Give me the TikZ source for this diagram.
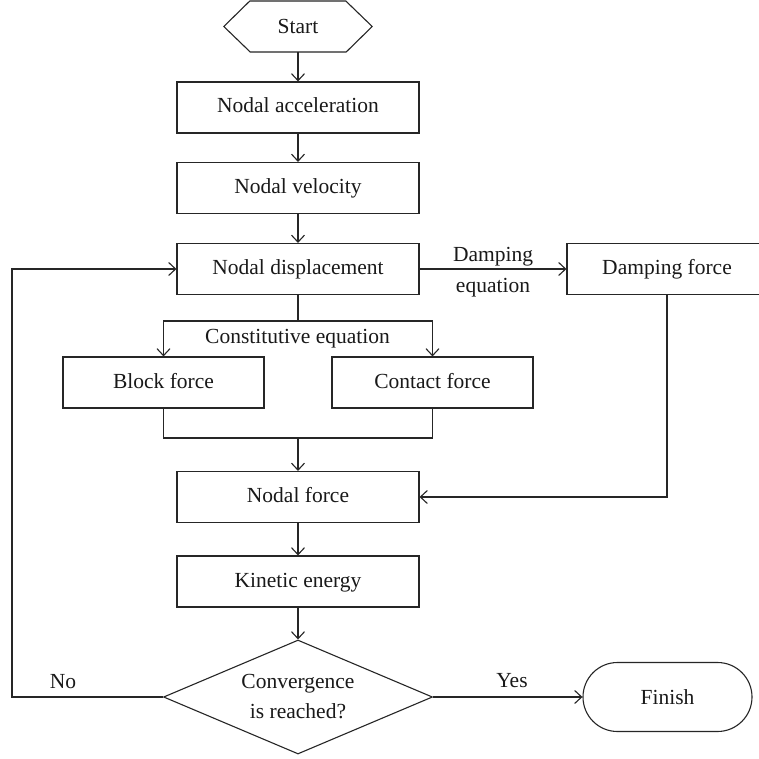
\documentclass[tikz,border=0pt]{standalone}
\usepackage{fontspec}
\setmainfont{Liberation Serif}
\usetikzlibrary{arrows.meta,shapes.geometric,shapes.misc}
\begin{document}
\begin{tikzpicture}[x=1pt,y=-1pt,
  every node/.style={font=\fontsize{21.5}{25}\selectfont, text=black!90},
  ln/.style={line width=1.1pt, draw=black!85},
  arr/.style={ln, -{Straight Barb[length=7pt,width=13pt,line width=1.1pt]}},
  boxnode/.style={draw=black!85, line width=1.1pt, rectangle, minimum width=242, minimum height=51, inner sep=0pt, text height=14pt, text depth=3pt},
  smallbox/.style={boxnode, minimum width=201},
  lbl/.style={anchor=base, inner sep=0pt}
]
\useasboundingbox (0,0) rectangle (758,759);
\fill[white] (0,0) rectangle (758,759);

% start hexagon
\node[inner sep=0pt, minimum width=148, minimum height=51] (start) at (298,26.5) {Start};
\draw[ln] (start.west) -- ++(26,-25.5) -- ++(96,0) -- (start.east) -- ++(-26,25.5) -- ++(-96,0) -- cycle;

\node[boxnode] (acc) at (298,107.5) {Nodal acceleration};
\node[boxnode] (vel) at (298,188) {Nodal velocity};
\node[boxnode] (disp) at (298,269) {Nodal displacement};
\node[smallbox, minimum width=200] (damp) at (667,269) {Damping force};
\node[smallbox] (block) at (163.5,382.5) {Block force};
\node[smallbox] (contact) at (432.5,382.5) {Contact force};
\node[boxnode] (nforce) at (298,497) {Nodal force};
\node[boxnode] (kin) at (298,581.5) {Kinetic energy};
\node[draw=black!85, line width=1.1pt, diamond, aspect=2.36, minimum width=269, minimum height=114, inner sep=0pt, align=center, font=\fontsize{21.5}{30}\selectfont] (conv) at (298,697) {Convergence\\is reached?};
\node[draw=black!85, line width=1.1pt, rounded rectangle, minimum width=169, minimum height=69, inner sep=0pt] (finish) at (667.5,697) {Finish};

\coordinate (split) at (298,321);
\coordinate (merge) at (298,438);
\coordinate (loopc) at (12,697);

\draw[arr] (start.south) -- (acc.north);
\draw[arr] (acc.south) -- (vel.north);
\draw[arr] (vel.south) -- (disp.north);
\draw[ln] (disp.south) -- (split);
\draw[arr] (split) -| (block.north);
\draw[arr] (split) -| (contact.north);
\draw[ln] (block.south) |- (merge) -| (contact.south);
\draw[arr] (merge) -- (nforce.north);
\draw[arr] (disp.east) -- (damp.west);
\draw[arr] (damp.south) |- (nforce.east);
\draw[arr] (nforce.south) -- (kin.north);
\draw[arr] (kin.south) -- (conv.north);
\draw[arr] (conv.east) -- (finish.west);
\draw[arr] (conv.west) -- (loopc) |- (disp.west);

\node[lbl] (ldamp) at (493,261) {Damping};
\node[lbl] (leq) at (493,292) {equation};
\node[lbl] (lconst) at (297.5,343) {Constitutive equation};
\node[lbl] (lno) at (63,688) {No};
\node[lbl] (lyes) at (512,687) {Yes};
\end{tikzpicture}
\end{document}
